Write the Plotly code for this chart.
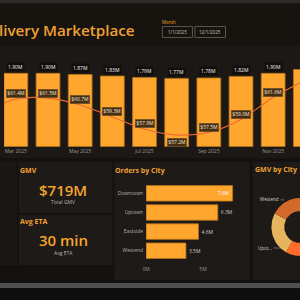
import numpy as np
import plotly.graph_objects as go

# ---------------- data ----------------
months = ["Jan 2025", "Feb 2025", "Mar 2025", "Apr 2025", "May 2025", "Jun 2025",
          "Jul 2025", "Aug 2025", "Sep 2025", "Oct 2025", "Nov 2025", "Dec 2025"]
orders_m = [None, None, 1.90, 1.90, 1.87, 1.83, 1.79, 1.77, 1.78, 1.82, 1.90, 2.00]
gmv_m = [None, 59.8, 61.4, 61.5, 60.7, 59.3, 57.9, 57.2, 57.5, 59.0, 61.6, 63.6]
month_ticks = ["Jan 2025", "Mar 2025", "May 2025", "Jul 2025", "Sep 2025", "Nov 2025"]

cities = ["Downtown", "Uptown", "Eastside", "Westend"]
city_orders_m = [7.6, 6.3, 4.6, 3.5]
city_order_labels = ["7.6M", "6.3M", "4.6M", "3.5M"]

donut_cities = ["Downtown", "Eastside", "Uptown", "Westend"]
donut_gmv_m = [260, 158, 177, 124]

kpi_gmv = "$719M"
kpi_eta = "30 min"

# ---------------- style ----------------
FONT = "Open Sans"
ORANGE = "#FFA62E"
TITLE_OR = "#F0A032"
DONUT_COLORS = ["#FFA62E", "#FF6B2C", "#E6B45C", "#D2692A"]
W, H = 300, 300


def px(x):
    return x / W


def py(y):
    return 1 - y / H


fig = go.Figure()

# monthly orders (bars) + GMV (line)
fig.add_trace(go.Bar(
    x=months, y=orders_m, xaxis="x", yaxis="y",
    marker=dict(color=ORANGE, line=dict(color="#B8731A", width=0.8)),
    showlegend=False, hoverinfo="skip"))
fig.add_trace(go.Scatter(
    x=months, y=gmv_m, xaxis="x", yaxis="y2", mode="lines",
    line=dict(color="#EE6A35", width=1.1, shape="spline", smoothing=0.8),
    showlegend=False, hoverinfo="skip"))

# orders by city
fig.add_trace(go.Bar(
    x=city_orders_m, y=cities, orientation="h", xaxis="x3", yaxis="y3",
    width=0.81,
    marker=dict(color=ORANGE, line=dict(color="#B8731A", width=0.8)),
    text=city_order_labels,
    textposition=["inside", "outside", "outside", "outside"],
    insidetextanchor="end",
    insidetextfont=dict(family=FONT, size=5, color="#FFFFFF"),
    outsidetextfont=dict(family=FONT, size=5, color="#CFCAC4"),
    cliponaxis=False, showlegend=False, hoverinfo="skip"))

# GMV by city donut, drawn on an equal-scale cartesian subplot (units = px)
R_OUT, R_IN = 29.0, 16.0
vals = np.array(donut_gmv_m, dtype=float)
ends = np.cumsum(vals) / vals.sum() * 2 * np.pi
starts = np.concatenate([[0.0], ends[:-1]])
for name, a0, a1, col in zip(donut_cities, starts, ends, DONUT_COLORS):
    t = np.linspace(a0, a1, 80)
    xs = np.concatenate([R_OUT * np.sin(t), R_IN * np.sin(t[::-1])])
    ys = np.concatenate([R_OUT * np.cos(t), R_IN * np.cos(t[::-1])])
    fig.add_trace(go.Scatter(
        x=xs, y=ys, xaxis="x4", yaxis="y4", mode="lines", fill="toself",
        fillcolor=col, line=dict(width=0, color=col), name=name,
        showlegend=False, hoverinfo="skip"))

# ---------------- shapes (cards) ----------------
shapes = []


def rect(x0, y0, x1, y1, fill, line=None, lw=0, layer="below"):
    shapes.append(dict(type="rect", xref="paper", yref="paper",
                       x0=px(x0), x1=px(x1), y0=py(y1), y1=py(y0),
                       fillcolor=fill, line=dict(width=lw, color=line or fill),
                       layer=layer))


rect(-5, -5, 305, 3.5, "#2E2C2B")
rect(-5, 3.5, 305, 46, "#17130F")
rect(-5, 46, 305, 158, "#1C1815")
rect(-5, 158, 305, 283, "#141110")
rect(-5, 162, 13, 265, "#1B1714")
rect(15, 162, 110, 213, "#1E1A17")
rect(15, 215, 110, 265, "#1E1A17")
rect(112, 162, 249, 280, "#1E1A17")
rect(252, 162, 305, 280, "#1E1A17")
rect(-5, 283, 305, 288, "#515050")
rect(-5, 288, 305, 305, "#0F0E0E")
rect(160.5, 26.5, 191, 37.5, "rgba(0,0,0,0)", "#6A6560", 0.8)
rect(193.5, 26.5, 224.5, 37.5, "rgba(0,0,0,0)", "#6A6560", 0.8)

# ---------------- annotations ----------------
ann = []


def text(x, y, s, size, color, anchor="center", weight=400, xshift=0):
    ann.append(dict(xref="paper", yref="paper", x=px(x), y=py(y), text=s,
                    showarrow=False, xanchor=anchor, yanchor="middle", xshift=xshift,
                    font=dict(family=FONT, size=size, color=color, weight=weight)))


text(0, 29.5, "livery Marketplace", 15.2, TITLE_OR, "left", 600, xshift=-7)
text(160.5, 22, "Month", 4.5, TITLE_OR, "left", xshift=-2)
text(175.7, 32, "1/1/2025", 4.5, "#C9C5C0")
text(209, 32, "12/1/2025", 4.5, "#C9C5C0")

text(17, 170, "GMV", 7, TITLE_OR, "left", 700, xshift=-3)
text(60, 189.5, kpi_gmv, 15, "#F5A52C", "center", 600)
text(60, 202, "Total GMV", 5, "#B9B3AD")
text(17, 221, "Avg ETA", 7, TITLE_OR, "left", 700, xshift=-3)
text(60, 240, kpi_eta, 15, "#F5A52C", "center", 600)
text(60, 253, "Avg ETA", 5, "#B9B3AD")
text(114, 170, "Orders by City", 7, TITLE_OR, "left", 700, xshift=-3)
text(255, 169.5, "GMV by City", 7, TITLE_OR, "left", 700, xshift=-3)

for m, v in zip(months, orders_m):
    if v is None:
        continue
    ann.append(dict(xref="x", yref="y", x=m, y=v, yshift=6.5, text=f"{v:.2f}M",
                    showarrow=False, yanchor="middle",
                    bgcolor="#110E0C", borderpad=1,
                    font=dict(family=FONT, size=5, color="#F2F2F2")))
for m, v in zip(months, gmv_m):
    if v is None or m in ("Jan 2025", "Feb 2025"):
        continue
    shift = -7.5 if m == "Aug 2025" else 5
    ann.append(dict(xref="x", yref="y2", x=m, y=v, yshift=shift, text=f"${v:.1f}M",
                    showarrow=False, yanchor="middle",
                    bgcolor="rgba(52,36,18,0.92)", bordercolor="#7A5A32",
                    borderwidth=0.5, borderpad=0.8,
                    font=dict(family=FONT, size=5, color="#F3E6D2")))

# donut labels with leader lines
for label, tip, off in [("Westend", (284, 200), (-14.5, -1)),
                        ("Upto...", (281, 248), (-16.5, 0))]:
    ann.append(dict(xref="paper", yref="paper", x=px(tip[0]), y=py(tip[1]),
                    ax=off[0], ay=off[1], text=label, showarrow=True,
                    arrowhead=0, arrowwidth=0.6, arrowcolor="#9C958F", standoff=0,
                    font=dict(family=FONT, size=4.5, color="#D8D3CE")))

# ---------------- layout ----------------
idx_left = 2 - 12 / 32.6
D_X0, D_X1, D_Y0, D_Y1 = 252, 300, 178, 280   # donut subplot box (px)
D_CX, D_CY = 300, 227                        # donut centre (px)
fig.update_layout(
    width=W, height=H, margin=dict(l=0, r=0, t=0, b=0),
    paper_bgcolor="#1B1714", plot_bgcolor="rgba(0,0,0,0)",
    bargap=0.26, showlegend=False,
    font=dict(family=FONT, color="#CCCCCC"),
    xaxis=dict(domain=[0, 1], anchor="y", type="category", categoryorder="array",
               categoryarray=months, range=[idx_left, idx_left + 300 / 32.6],
               tickvals=month_ticks, ticktext=month_ticks, showgrid=False,
               zeroline=False, showline=False, ticks="",
               tickfont=dict(family=FONT, size=5, color="#9C968F")),
    yaxis=dict(domain=[py(146.7), py(60)], range=[0, 86.7 / 38.6], visible=False),
    yaxis2=dict(overlaying="y", range=[55.83, 65.95], visible=False),
    xaxis3=dict(domain=[px(144), px(240)], anchor="y3", range=[0, 96 / 11.54],
                tickvals=[0, 5], ticktext=["0M", "5M"], showgrid=False,
                zeroline=False, showline=False, ticks="", ticklabelstandoff=5,
                tickfont=dict(family=FONT, size=5, color="#9C968F")),
    yaxis3=dict(domain=[py(260.3), py(183.8)], anchor="x3", type="category",
                categoryorder="array", categoryarray=cities, autorange="reversed",
                showgrid=False, zeroline=False, showline=False, ticks="",
                ticklabelstandoff=2,
                tickfont=dict(family=FONT, size=5, color="#B5AFA9")),
    xaxis4=dict(domain=[px(D_X0), px(D_X1)], anchor="y4",
                range=[D_X0 - D_CX, D_X1 - D_CX], visible=False, fixedrange=True),
    yaxis4=dict(domain=[py(D_Y1), py(D_Y0)], anchor="x4",
                range=[D_CY - D_Y1, D_CY - D_Y0], visible=False, fixedrange=True),
    shapes=shapes, annotations=ann,
)

fig.write_html("out.html")
